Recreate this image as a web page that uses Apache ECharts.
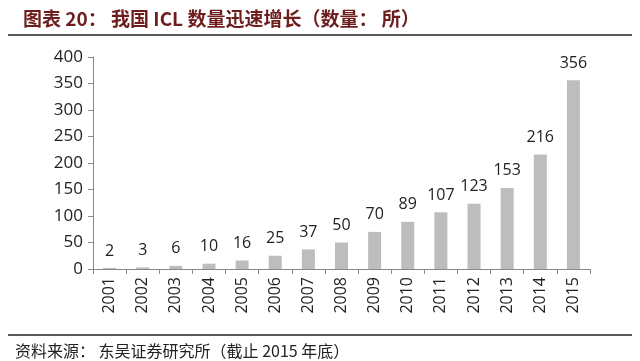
<!DOCTYPE html>
<html><head><meta charset="utf-8">
<script src="https://cdn.jsdelivr.net/npm/echarts@6/dist/echarts.min.js"></script>
<style>html,body{margin:0;padding:0;background:#fff}#c{width:640px;height:361px}</style>
</head><body><div id="c"></div>
<script>
const categories = ['2001','2002','2003','2004','2005','2006','2007','2008','2009','2010','2011','2012','2013','2014','2015'];
const values = [2,3,6,10,16,25,37,50,70,89,107,123,153,216,356];
const titleText = '图表 20： 我国 ICL 数量迅速增长（数量： 所）';
const sourceText = '资料来源： 东吴证券研究所（截止 2015 年底）';

const chart = echarts.init(document.getElementById('c'));
chart.setOption({
  backgroundColor: '#fff',
  animation: false,
  title: [{
    text: titleText, left: 18, top: 4,
    textStyle: {fontFamily: 'Noto Sans CJK SC', fontWeight: 'bold', fontSize: 19, color: '#6e1d1d'}
  }, {
    text: sourceText, left: 10, top: 338,
    textStyle: {fontFamily: 'Noto Sans CJK SC', fontWeight: 'normal', fontSize: 16, color: '#222'}
  }],
  graphic: [
    {type: 'line', shape: {x1: 8, y1: 35, x2: 632, y2: 35}, style: {stroke: '#222', lineWidth: 1.5}},
    {type: 'line', shape: {x1: 8, y1: 335, x2: 632, y2: 335}, style: {stroke: '#222', lineWidth: 1.5}}
  ],
  grid: {left: 93, right: 50, top: 57, bottom: 92, containLabel: false},
  xAxis: {
    type: 'category', data: categories,
    axisLine: {lineStyle: {color: '#888'}},
    axisTick: {show: true, alignWithLabel: false, length: 5, lineStyle: {color: '#888'}},
    axisLabel: {rotate: 90, fontSize: 16, color: '#222', fontFamily: 'Open Sans', margin: 8}
  },
  yAxis: {
    type: 'value', min: 0, max: 400, interval: 50,
    axisLine: {show: true, lineStyle: {color: '#888'}},
    axisTick: {show: true, length: 5, lineStyle: {color: '#888'}},
    splitLine: {show: false},
    axisLabel: {fontSize: 17, color: '#222', fontFamily: 'Open Sans', margin: 10}
  },
  series: [{
    type: 'bar', data: values, barWidth: 13,
    itemStyle: {color: '#bdbdbd'},
    label: {show: true, position: 'top', distance: 9, fontSize: 16, color: '#222', fontFamily: 'Open Sans'}
  }]
});
</script></body></html>
